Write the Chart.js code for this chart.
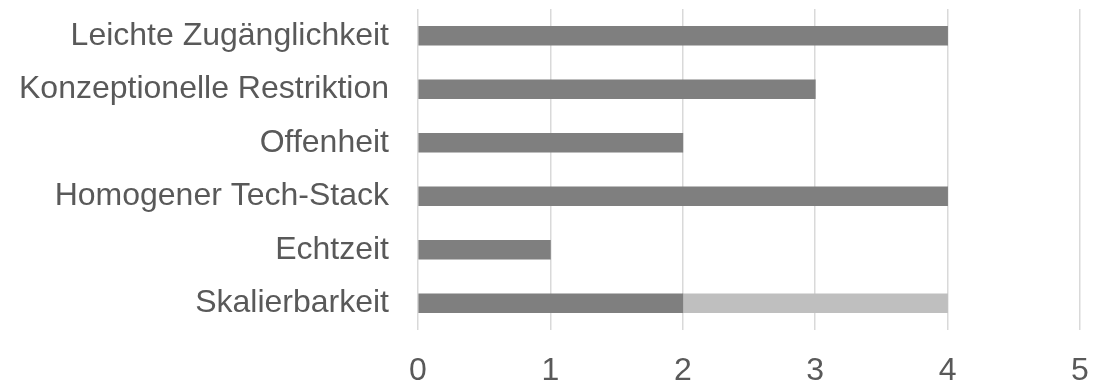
<!DOCTYPE html>
<html>
<head>
<meta charset="utf-8">
<script src="https://cdn.jsdelivr.net/npm/chart.js@4"></script>
<style>
  html, body { margin: 0; padding: 0; background: #fff; }
  #wrap { width: 1108px; height: 381px; }
</style>
</head>
<body>
<div id="wrap"><canvas id="myChart"></canvas></div>
<script>
const categories = ['Leichte Zugänglichkeit', 'Konzeptionelle Restriktion', 'Offenheit', 'Homogener Tech-Stack', 'Echtzeit', 'Skalierbarkeit'];
const seriesMain = [4, 3, 2, 4, 1, 2];
const seriesExtra = [0, 0, 0, 0, 0, 2];
const xTicks = [0, 1, 2, 3, 4, 5];

const labelFont = { family: '"Liberation Sans", Arial, sans-serif', size: 32 };
const ctx = document.getElementById('myChart');

new Chart(ctx, {
  type: 'bar',
  data: {
    labels: categories,
    datasets: [
      {
        label: 'Bewertung',
        data: seriesMain,
        backgroundColor: '#7f7f7f',
        barThickness: 19
      },
      {
        label: 'Zusatz',
        data: seriesExtra,
        backgroundColor: '#bfbfbf',
        barThickness: 19
      }
    ]
  },
  options: {
    indexAxis: 'y',
    responsive: true,
    maintainAspectRatio: false,
    animation: false,
    layout: { padding: { top: 9, right: 28, left: 0, bottom: 0 } },
    plugins: {
      legend: { display: false },
      tooltip: { enabled: false }
    },
    scales: {
      x: {
        stacked: true,
        min: 0,
        max: 5,
        afterBuildTicks: (axis) => { axis.ticks = xTicks.map(v => ({ value: v })); },
        afterFit: (axis) => { axis.height = 51; axis.paddingLeft = 0; axis.paddingRight = 0; },
        grid: { color: '#d9d9d9', lineWidth: 1.5, drawTicks: false },
        border: { display: false },
        ticks: {
          padding: 22,
          color: '#595959',
          font: labelFont
        }
      },
      y: {
        stacked: true,
        afterFit: (axis) => { axis.width = 418; axis.paddingTop = 0; axis.paddingBottom = 0; },
        grid: { display: false, drawTicks: false },
        border: { display: false },
        ticks: {
          padding: 29,
          color: '#595959',
          font: labelFont
        }
      }
    }
  }
});
</script>
</body>
</html>
